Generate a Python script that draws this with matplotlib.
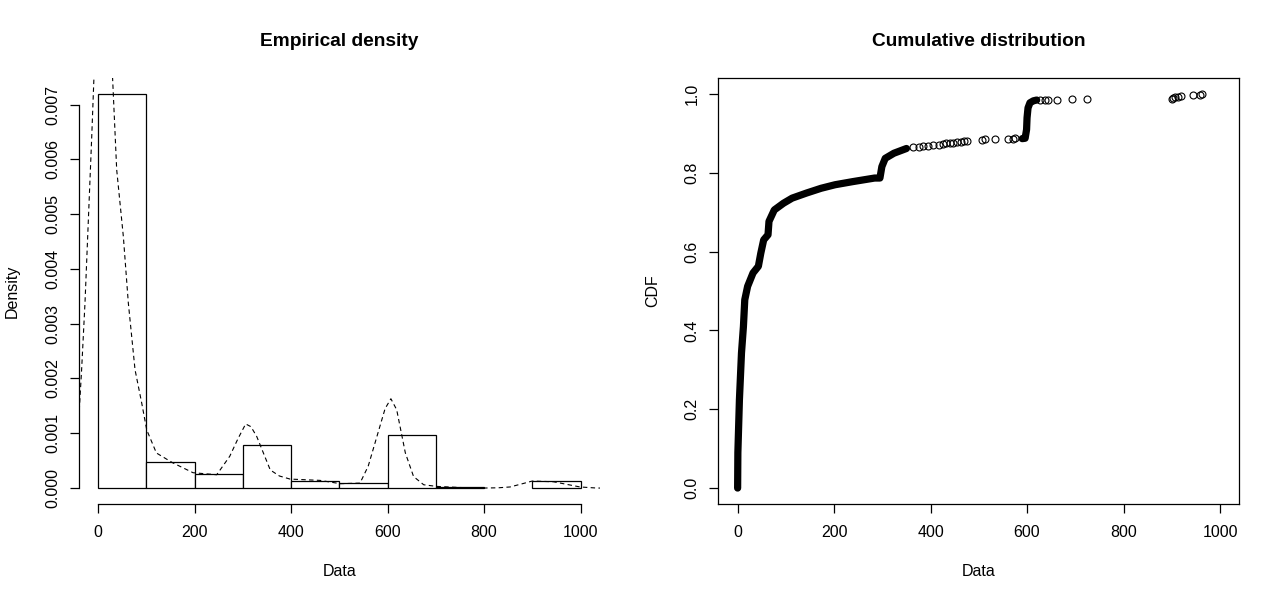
import matplotlib.pyplot as plt

plt.rcParams['font.family'] = ['Liberation Sans', 'DejaVu Sans']

# histogram on the density scale (breaks every 100)
bin_edges = [0, 100, 200, 300, 400, 500, 600, 700, 800, 900, 1000]
bin_density = [0.00719, 0.000475, 0.000256, 0.000785, 0.000128,
               0.000086, 0.000962, 0.00002, 0.0, 0.000122]

# dashed kernel density curve
kde_x = [-60, -50, -40, -34, -27, -20, -13, -8, 0, 10, 20, 29.6, 38.7, 52.5,
         62.8, 76.7, 90.6, 101, 121, 155, 197, 246, 273, 290, 306, 317, 329,
         357, 376, 398, 460, 502, 543, 560, 578, 595, 607, 619, 637, 654,
         675, 702, 750, 799, 830, 854, 880, 900, 944, 970, 999, 1034, 1060]
kde_y = [0.0003, 0.0006, 0.00125, 0.00216, 0.00338, 0.0049, 0.00642, 0.0076,
         0.0092, 0.0098, 0.0093, 0.0076, 0.00581, 0.00459, 0.00338, 0.00216,
         0.00155, 0.00106, 0.00064, 0.00046, 0.00028, 0.000243, 0.00058,
         0.0009, 0.00117, 0.00112, 0.00094, 0.00033, 0.00022, 0.000164,
         0.00014, 0.00008, 0.00009, 0.0004, 0.00094, 0.00145, 0.00163,
         0.00143, 0.00064, 0.00021, 0.00006, 0.00003, 0.00001, 0.0, 0.000005,
         0.00002, 0.00008, 0.000128, 0.000115, 0.00007, 0.00002, 0.0, 0.0]

# empirical CDF: parts where the circles pile up into a solid band
cdf_band1_x = [0, 0.5, 3.7, 8, 12, 14.8, 20.7, 31.9, 43, 48, 54, 63, 65, 76,
               95, 113, 143, 173, 202, 239, 284, 295, 299, 306, 324, 350]
cdf_band1_y = [0, 0.09, 0.224, 0.343, 0.41, 0.478, 0.512, 0.546, 0.563, 0.596,
               0.63, 0.643, 0.677, 0.706, 0.723, 0.736, 0.749, 0.761, 0.77,
               0.778, 0.787, 0.787, 0.816, 0.837, 0.85, 0.862]
cdf_band2_x = [590, 596, 599, 600, 602, 606, 613, 620]
cdf_band2_y = [0.887, 0.888, 0.91, 0.94, 0.965, 0.978, 0.983, 0.985]
# single circles where the data thin out
cdf_pts_x = [364, 375, 385, 395, 405, 418, 425, 433, 440, 447, 454, 464, 470,
             476, 506, 513, 534, 561, 570, 575,
             627, 637, 644, 661.5, 692.5, 723.7,
             900, 903, 907, 913, 920, 945, 958, 962]
cdf_pts_y = [0.865, 0.866, 0.868, 0.869, 0.871, 0.872, 0.873, 0.875, 0.876,
             0.877, 0.878, 0.879, 0.88, 0.881, 0.884, 0.885, 0.886, 0.887,
             0.887, 0.888,
             0.985, 0.986, 0.986, 0.986, 0.987, 0.987,
             0.9887, 0.9903, 0.992, 0.9937, 0.9953, 0.997, 0.9987, 1.0]

x_ticks = [0, 200, 400, 600, 800, 1000]
dens_ticks = [0.000, 0.001, 0.002, 0.003, 0.004, 0.005, 0.006, 0.007]
dens_labels = ['0.000', '0.001', '0.002', '0.003', '0.004', '0.005', '0.006', '0.007']
cdf_ticks = [0.0, 0.2, 0.4, 0.6, 0.8, 1.0]
cdf_labels = ['0.0', '0.2', '0.4', '0.6', '0.8', '1.0']

fs = 11.5
fig = plt.figure(figsize=(12.8, 6.02), dpi=100)
ax1 = fig.add_axes([0.0615, 0.1631, 0.4071, 0.7067])
ax2 = fig.add_axes([0.5612, 0.1631, 0.4070, 0.7067])

# left: histogram + density
widths = [bin_edges[i + 1] - bin_edges[i] for i in range(len(bin_density))]
for left, w, h in zip(bin_edges[:-1], widths, bin_density):
    if h > 0:
        ax1.bar(left, h, width=w, align='edge', facecolor='white',
                edgecolor='black', linewidth=0.9)
ax1.plot(kde_x, kde_y, color='black', linewidth=0.8, linestyle=(0, (4, 3)))
ymax = max(bin_density)
ax1.set_xlim(-40, 1040)
ax1.set_ylim(-0.04 * ymax, 1.04 * ymax)
ax1.spines['top'].set_visible(False)
ax1.spines['right'].set_visible(False)
ax1.spines['left'].set_bounds(0, 0.007)
ax1.spines['bottom'].set_bounds(0, 1000)
ax1.set_xticks(x_ticks)
ax1.set_yticks(dens_ticks)
ax1.set_yticklabels(dens_labels, rotation=90, va='center')

# right: empirical CDF
ax2.plot(cdf_band1_x, cdf_band1_y, color='black', linewidth=5.2,
         solid_capstyle='round', solid_joinstyle='round')
ax2.plot(cdf_band2_x, cdf_band2_y, color='black', linewidth=5.2,
         solid_capstyle='round', solid_joinstyle='round')
ax2.plot(cdf_pts_x, cdf_pts_y, linestyle='none', marker='o', markersize=5,
         markerfacecolor='none', markeredgecolor='black', markeredgewidth=0.8)
ax2.set_xlim(-40, 1040)
ax2.set_ylim(-0.04, 1.04)
ax2.set_xticks(x_ticks)
ax2.set_yticks(cdf_ticks)
ax2.set_yticklabels(cdf_labels, rotation=90, va='center')

for ax in (ax1, ax2):
    for s in ax.spines.values():
        s.set_linewidth(0.9)
    ax.tick_params(direction='out', length=6.5, width=0.9, labelsize=fs)
    ax.tick_params(axis='x', pad=9)
    ax.tick_params(axis='y', pad=7)

# titles and axis labels
fig.text(339.25 / 1280, 1 - 41 / 602, 'Empirical density', ha='center',
         va='center', fontsize=13.8, fontweight='bold')
fig.text(978.8 / 1280, 1 - 41 / 602, 'Cumulative distribution', ha='center',
         va='center', fontsize=13.8, fontweight='bold')
fig.text(339.25 / 1280, 1 - 572 / 602, 'Data', ha='center', va='center', fontsize=fs)
fig.text(978.8 / 1280, 1 - 572 / 602, 'Data', ha='center', va='center', fontsize=fs)
fig.text(12.7 / 1280, 1 - 291 / 602, 'Density', ha='center', va='center',
         rotation=90, fontsize=fs)
fig.text(652.3 / 1280, 1 - 291 / 602, 'CDF', ha='center', va='center',
         rotation=90, fontsize=fs)

fig.savefig('out.png', dpi=100)
